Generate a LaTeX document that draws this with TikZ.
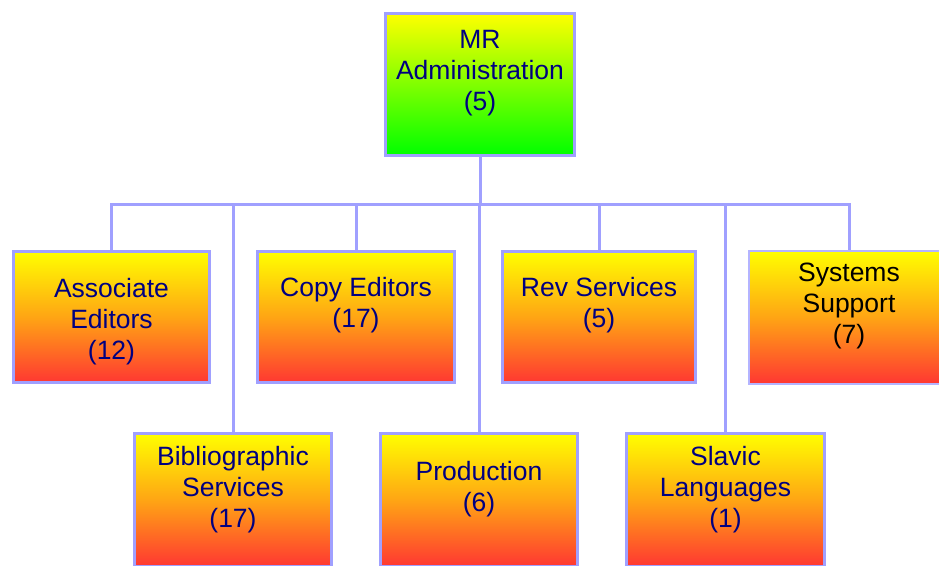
\documentclass[tikz,border=0pt]{standalone}
\usepackage{fontspec}
\setmainfont{Liberation Sans}
\definecolor{lav}{RGB}{160,160,255}
\definecolor{lavlight}{RGB}{180,180,255}
\definecolor{navy}{RGB}{0,0,128}
\definecolor{orgmid}{RGB}{255,165,20}
\definecolor{orgbot}{RGB}{255,55,50}
\tikzset{
  unit/.style={draw=lav, line width=3pt, inner sep=0pt,
    top color=yellow, bottom color=orgbot, middle color=orgmid},
  topunit/.style={draw=lav, line width=3pt, inner sep=0pt,
    top color=yellow, bottom color=green},
  label text/.style={align=center, text=navy, inner sep=0pt,
    font=\fontsize{26.5}{31}\selectfont},
  link/.style={draw=lav, line width=3pt}
}
\begin{document}
\begin{tikzpicture}[x=1pt,y=-1pt]
\useasboundingbox (0,0) rectangle (939,565);
\clip (0,0) rectangle (939,565);
% head of the organisation
\node[topunit, minimum width=189pt, minimum height=142pt] (mr) at (480,84.5) {};
% first row of departments
\node[unit, minimum width=196pt, minimum height=131pt] (ae) at (111.5,317) {};
\node[unit, minimum width=197pt, minimum height=131pt] (ce) at (356,317) {};
\node[unit, minimum width=193pt, minimum height=131pt] (rs) at (599,317) {};
\node[unit, draw=lavlight, line width=2pt, minimum width=200pt, minimum height=133pt] (ss) at (849,317) {};
% second row of departments
\node[unit, minimum width=197pt, minimum height=133pt] (bs) at (233,500) {};
\node[unit, minimum width=197pt, minimum height=133pt] (pr) at (479,500) {};
\node[unit, minimum width=198pt, minimum height=133pt] (sl) at (725.5,500) {};
% labels
\node[label text] (mrt) at (480,73.5) {MR\\Administration\\(5)};
\node[label text] (aet) at (111.5,321.5) {Associate\\Editors\\(12)};
\node[label text] (cet) at (356,305.5) {Copy Editors\\(17)};
\node[label text] (rst) at (599,305.5) {Rev Services\\(5)};
\node[label text, text=black] (sst) at (849,305.5) {Systems\\Support\\(7)};
\node[label text] (bst) at (233,489.5) {Bibliographic\\Services\\(17)};
\node[label text] (prt) at (479,489) {Production\\(6)};
\node[label text] (slt) at (725.5,489.5) {Slavic\\Languages\\(1)};
% connectors
\coordinate (busL) at (111,204);
\coordinate (busR) at (849,204);
\draw[link] (mr.south) -- (mr.south |- busL);
\draw[link, line cap=rect] (busL) -- (busR);
\draw[link] (ae.north) -- (ae.north |- busL);
\draw[link] (ce.north) -- (ce.north |- busL);
\draw[link] (rs.north) -- (rs.north |- busL);
\draw[link] (ss.north) -- (ss.north |- busL);
\draw[link] (bs.north) -- (bs.north |- busL);
\draw[link] (pr.north) -- (pr.north |- busL);
\draw[link] (sl.north) -- (sl.north |- busL);
\end{tikzpicture}
\end{document}
